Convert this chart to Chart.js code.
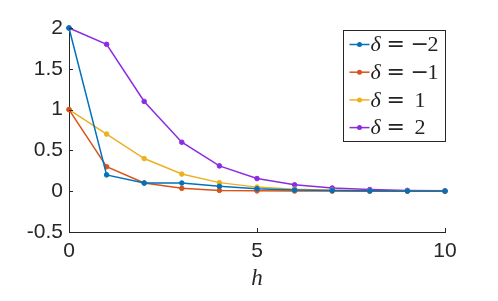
<!DOCTYPE html>
<html>
<head>
<meta charset="utf-8">
<script src="https://cdn.jsdelivr.net/npm/chart.js@4/dist/chart.umd.min.js"></script>
<style>
  html, body { margin: 0; padding: 0; background: #fff; }
  #chart { display: block; }
</style>
</head>
<body>
<canvas id="chart" width="498" height="301"></canvas>
<script>
// ---- data -------------------------------------------------------------------

const hValues = [0, 1, 2, 3, 4, 5, 6, 7, 8, 9, 10];
const deltaSigns = ['\u2212', '\u2212', '', ''];
const deltaDigits = ['2', '1', '1', '2'];
const seriesColors = ['#0072BD', '#D95319', '#EDB120', '#8B2BE2'];

const deltaM2 = [2, 0.2, 0.1, 0.1, 0.06, 0.03, 0.015, 0.008, 0.004, 0.002, 0.001];
const deltaM1 = [1, 0.3, 0.1, 0.035, 0.01, 0.004, 0.002, 0.001, 0, 0, 0];
const deltaP1 = [1, 0.7, 0.4, 0.21, 0.105, 0.05, 0.025, 0.012, 0.006, 0.003, 0.001];
const deltaP2 = [2, 1.8, 1.1, 0.6, 0.31, 0.155, 0.078, 0.039, 0.02, 0.01, 0.005];

const xTicks = [0, 5, 10];
const yTicks = [-0.5, 0, 0.5, 1, 1.5, 2];

const axisColor = '#262626';
const tickFont = { family: "'Liberation Sans', Arial, sans-serif", size: 21 };

// ---- helpers ----------------------------------------------------------------

function toPoints(ys) {
  return hValues.map((h, i) => ({ x: h, y: ys[i] }));
}

function fmtTick(v) {
  return String(Math.round(v * 10) / 10);
}

// inward tick marks, MATLAB style
const innerTicks = {
  id: 'innerTicks',
  afterDraw(chart) {
    const { ctx, chartArea: a, scales: { x, y } } = chart;
    const len = 4;
    ctx.save();
    ctx.strokeStyle = axisColor;
    ctx.lineWidth = 1;
    ctx.beginPath();
    xTicks.forEach(t => {
      const px = Math.round(x.getPixelForValue(t)) + 0.5;
      ctx.moveTo(px, a.bottom);
      ctx.lineTo(px, a.bottom - len);
    });
    yTicks.forEach(t => {
      const py = Math.round(y.getPixelForValue(t)) + 0.5;
      ctx.moveTo(a.left, py);
      ctx.lineTo(a.left + len, py);
    });
    ctx.stroke();
    ctx.restore();
  }
};

// boxed legend with latex-ish labels
const mathLegend = {
  id: 'mathLegend',
  afterDraw(chart) {
    const { ctx, chartArea: a } = chart;
    const boxW = 102, boxH = 111;
    const bx = Math.round(a.right - boxW) + 0.5;
    const by = Math.round(a.top + 2) + 0.5;
    ctx.save();
    ctx.fillStyle = '#fff';
    ctx.fillRect(bx, by, boxW, boxH);
    ctx.strokeStyle = axisColor;
    ctx.lineWidth = 1;
    ctx.strokeRect(bx, by, boxW, boxH);

    chart.data.datasets.forEach((ds, i) => {
      const cy = by + 14 + i * 27.7;
      const lx = bx + 6;
      ctx.strokeStyle = ds.borderColor;
      ctx.lineWidth = 1.5;
      ctx.beginPath();
      ctx.moveTo(lx, cy);
      ctx.lineTo(lx + 20, cy);
      ctx.stroke();
      ctx.fillStyle = ds.borderColor;
      ctx.beginPath();
      ctx.arc(lx + 10, cy, 2.5, 0, Math.PI * 2);
      ctx.fill();

      ctx.fillStyle = '#222';
      ctx.textBaseline = 'middle';
      ctx.textAlign = 'left';
      const tx = bx + 27;
      ctx.font = "italic 22px 'Liberation Serif', serif";
      ctx.fillText('\u03B4', tx, cy + 1);
      ctx.font = "22px 'DejaVu Serif', serif";
      ctx.fillText('=', tx + 16, cy + 1);
      let dx = tx + 44;
      if (deltaSigns[i]) {
        ctx.fillText(deltaSigns[i], tx + 40, cy + 1);
        dx = tx + 57;
      }
      ctx.font = "22px 'Liberation Serif', serif";
      ctx.fillText(deltaDigits[i], dx, cy + 1);
    });
    ctx.restore();
  }
};

// ---- chart ------------------------------------------------------------------

const seriesValues = [deltaM2, deltaM1, deltaP1, deltaP2];

new Chart(document.getElementById('chart').getContext('2d'), {
  type: 'line',
  data: {
    datasets: seriesValues.map((ys, i) => ({
      label: '\u03B4 = ' + deltaSigns[i] + deltaDigits[i],
      data: toPoints(ys),
      borderColor: seriesColors[i],
      backgroundColor: seriesColors[i],
      borderWidth: 1.5,
      pointRadius: 2.3,
      pointBorderWidth: 1,
      pointBackgroundColor: seriesColors[i],
      tension: 0,
      clip: false
    }))
  },
  options: {
    responsive: false,
    animation: false,
    events: [],
    layout: { padding: { top: 28, right: 53, left: 0, bottom: 0 } },
    plugins: { legend: { display: false }, tooltip: { enabled: false } },
    scales: {
      x: {
        type: 'linear',
        min: 0, max: 10,
        afterFit: s => { s.height = 69; },
        afterBuildTicks: s => { s.ticks = xTicks.map(v => ({ value: v })); },
        grid: { display: false, drawTicks: false },
        border: { display: true, color: axisColor, width: 1 },
        ticks: { color: axisColor, font: tickFont, padding: 7, maxRotation: 0, callback: fmtTick },
        title: {
          display: true,
          text: 'h',
          color: axisColor,
          font: { family: "'Liberation Serif', serif", size: 23, style: 'italic' },
          padding: { top: 0, bottom: 8 }
        }
      },
      y: {
        type: 'linear',
        min: -0.5, max: 2,
        afterFit: s => { s.width = 69; },
        afterBuildTicks: s => { s.ticks = yTicks.map(v => ({ value: v })); },
        grid: { display: false, drawTicks: false },
        border: { display: true, color: axisColor, width: 1 },
        ticks: { color: axisColor, font: tickFont, padding: 6, callback: fmtTick }
      }
    }
  },
  plugins: [innerTicks, mathLegend]
});
</script>
</body>
</html>
